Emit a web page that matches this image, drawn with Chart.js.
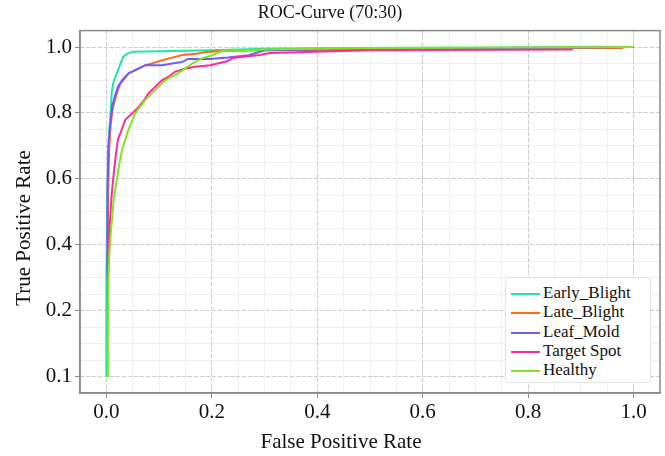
<!DOCTYPE html>
<html>
<head>
<meta charset="utf-8">
<title>ROC-Curve (70:30)</title>
<script src="https://cdn.jsdelivr.net/npm/chart.js@4.4.1/dist/chart.umd.min.js"></script>
<style>
  body { margin: 0; background: #fff; }
  #wrap { position: relative; width: 665px; height: 456px; }
  #legend {
    position: absolute; left: 505px; top: 277px; width: 146px; height: 106px;
    background: #fff; border: 1px solid #e2e2e2; border-radius: 3px;
    font: 17px "Liberation Serif", "Times New Roman", serif; color: #111;
    box-sizing: border-box; padding-top: 5px;
  }
  #legend div { height: 19.3px; line-height: 19.3px; white-space: nowrap; }
  #legend span.sw { display: inline-block; width: 29px; height: 2px; margin: 0 3px 0 5px; vertical-align: middle; }
</style>
</head>
<body>
<div id="wrap">
  <canvas id="roc" width="665" height="456"></canvas>
  <div id="legend"></div>
</div>
<script>
// class names and colours
var classes = ["Early_Blight", "Late_Blight", "Leaf_Mold", "Target Spot", "Healthy"];
var colors = ["#1ee6a8", "#ff6a13", "#6a5cff", "#ff2a9a", "#80e81a"];

// false / true positive rates
var earlyFpr = [0, 0, 0.002, 0.004, 0.006, 0.008, 0.01, 0.013, 0.017, 0.022, 0.027, 0.032, 0.04, 0.05, 0.1, 0.2, 0.3, 0.45, 0.7, 1.0];
var earlyTpr = [0, 0.3, 0.55, 0.7, 0.76, 0.8, 0.86, 0.89, 0.91, 0.93, 0.95, 0.97, 0.98, 0.986, 0.987, 0.99, 0.995, 0.997, 0.998, 1.0];

var lateFpr = [0.003, 0.003, 0.005, 0.008, 0.011, 0.013, 0.018, 0.022, 0.027, 0.035, 0.042, 0.055, 0.074, 0.09, 0.106, 0.125, 0.144, 0.17, 0.19, 0.22, 0.3, 0.45, 0.56, 0.57, 0.98];
var lateTpr = [0.08, 0.5, 0.68, 0.76, 0.8, 0.82, 0.85, 0.87, 0.89, 0.905, 0.92, 0.93, 0.945, 0.952, 0.96, 0.968, 0.976, 0.98, 0.985, 0.988, 0.99, 0.992, 0.993, 0.997, 0.997];

var leafFpr = [0.002, 0.002, 0.004, 0.007, 0.009, 0.011, 0.016, 0.022, 0.03, 0.042, 0.055, 0.074, 0.09, 0.106, 0.125, 0.144, 0.155, 0.197, 0.23, 0.27, 0.3, 0.5, 0.75, 0.9, 1.0];
var leafTpr = [0.3, 0.55, 0.7, 0.76, 0.79, 0.82, 0.85, 0.88, 0.9, 0.92, 0.93, 0.945, 0.945, 0.945, 0.95, 0.955, 0.964, 0.964, 0.968, 0.975, 0.99, 0.995, 0.997, 0.999, 1.0];

var targetFpr = [0.002, 0.003, 0.004, 0.006, 0.008, 0.01, 0.013, 0.017, 0.022, 0.027, 0.036, 0.05, 0.062, 0.072, 0.08, 0.093, 0.106, 0.118, 0.13, 0.15, 0.168, 0.197, 0.229, 0.24, 0.29, 0.31, 0.5, 0.885];
var targetTpr = [0.21, 0.3, 0.38, 0.45, 0.5, 0.55, 0.6, 0.66, 0.72, 0.74, 0.78, 0.8, 0.82, 0.84, 0.86, 0.88, 0.9, 0.91, 0.925, 0.935, 0.94, 0.945, 0.957, 0.967, 0.976, 0.982, 0.99, 0.993];

var healthyFpr = [0.002, 0.003, 0.004, 0.006, 0.009, 0.011, 0.014, 0.02, 0.025, 0.03, 0.042, 0.055, 0.074, 0.093, 0.112, 0.136, 0.163, 0.18, 0.2, 0.22, 0.3, 0.5, 1.0];
var healthyTpr = [0, 0.1, 0.3, 0.38, 0.45, 0.48, 0.54, 0.6, 0.65, 0.69, 0.75, 0.8, 0.84, 0.87, 0.9, 0.92, 0.95, 0.965, 0.975, 0.988, 0.993, 0.997, 1.0];

// axis ticks
var xTickValues = [0, 0.2, 0.4, 0.6, 0.8, 1.0];
var xTickLabels = ["0.0", "0.2", "0.4", "0.6", "0.8", "1.0"];
var yTickValues = [0, 0.2, 0.4, 0.6, 0.8, 1.0];
var yTickLabels = ["0.1", "0.2", "0.4", "0.6", "0.8", "1.0"];

var seriesFpr = [earlyFpr, lateFpr, leafFpr, targetFpr, healthyFpr];
var seriesTpr = [earlyTpr, lateTpr, leafTpr, targetTpr, healthyTpr];

function toPoints(xs, ys) {
  return xs.map(function (x, i) { return { x: x, y: ys[i] }; });
}

var datasets = classes.map(function (name, i) {
  return {
    label: name,
    data: toPoints(seriesFpr[i], seriesTpr[i]),
    borderColor: colors[i],
    backgroundColor: colors[i],
    borderWidth: 2,
    pointRadius: 0,
    showLine: true,
    tension: 0,
    order: classes.length - i
  };
});

var serif = "'Liberation Serif', 'Times New Roman', serif";
var frameColor = "#8a8a8a";

function fixedTicks(values) {
  return function (scale) {
    scale.ticks = values.map(function (v) { return { value: v }; });
  };
}
function minorTicks(scale) {
  var t = [];
  for (var k = -1; k <= 21; k++) t.push({ value: k * 0.05 });
  scale.ticks = t;
}

// frame on top/right and axis titles
var decor = {
  id: "decor",
  afterDraw: function (chart) {
    var c = chart.ctx, a = chart.chartArea;
    c.save();
    c.strokeStyle = frameColor;
    c.lineWidth = 1.5;
    c.strokeRect(a.left, a.top, a.right - a.left, a.bottom - a.top);
    c.fillStyle = "#111";
    c.font = "21px " + serif;
    c.textAlign = "center";
    c.textBaseline = "middle";
    c.fillText("False Positive Rate", 341, 442);
    c.translate(24, 228);
    c.rotate(-Math.PI / 2);
    c.fillText("True Positive Rate", 0, 0);
    c.restore();
  }
};

var chart = new Chart(document.getElementById("roc"), {
  type: "scatter",
  data: { datasets: datasets },
  plugins: [decor],
  options: {
    responsive: false,
    animation: false,
    layout: { padding: { left: 0, right: 5, top: 0, bottom: 0 } },
    plugins: {
      legend: { display: false },
      tooltip: { enabled: false },
      title: {
        display: true,
        text: "ROC-Curve (70:30)",
        color: "#111",
        font: { family: serif, size: 18, weight: "normal" },
        padding: { top: 2, bottom: 7 }
      }
    },
    scales: {
      xMinor: {
        type: "linear", position: "bottom", min: -0.05, max: 1.05,
        afterBuildTicks: minorTicks,
        afterFit: function (s) { s.height = 0; },
        ticks: { display: false },
        grid: { color: "#efefef", drawTicks: false },
        border: { display: false }
      },
      yMinor: {
        type: "linear", position: "left", min: -0.05, max: 1.05,
        afterBuildTicks: minorTicks,
        afterFit: function (s) { s.width = 0; },
        ticks: { display: false },
        grid: { color: "#efefef", drawTicks: false },
        border: { display: false }
      },
      x: {
        type: "linear", position: "bottom", min: -0.05, max: 1.05,
        afterBuildTicks: fixedTicks(xTickValues),
        afterFit: function (s) { s.height = 63; },
        ticks: {
          color: "#111", padding: 2, maxRotation: 0,
          font: { family: serif, size: 21 },
          callback: function (v) { return xTickLabels[xTickValues.indexOf(v)]; }
        },
        grid: { color: "#c4c4c4", tickColor: frameColor, tickLength: 5, tickBorderDash: [] },
        border: { color: frameColor, width: 1.5, dash: [3, 3] }
      },
      y: {
        type: "linear", position: "left", min: -0.05, max: 1.05,
        afterBuildTicks: fixedTicks(yTickValues),
        afterFit: function (s) { s.width = 80; },
        ticks: {
          color: "#111", padding: 3,
          font: { family: serif, size: 21 },
          callback: function (v) { return yTickLabels[yTickValues.indexOf(v)]; }
        },
        grid: { color: "#c4c4c4", tickColor: frameColor, tickLength: 5, tickBorderDash: [] },
        border: { color: frameColor, width: 1.5, dash: [3, 3] }
      }
    }
  }
});

// legend inside the plot, lower right
var leg = document.getElementById("legend");
classes.forEach(function (name, i) {
  var row = document.createElement("div");
  var sw = document.createElement("span");
  sw.className = "sw";
  sw.style.background = colors[i];
  row.appendChild(sw);
  row.appendChild(document.createTextNode(name));
  leg.appendChild(row);
});
</script>
</body>
</html>
